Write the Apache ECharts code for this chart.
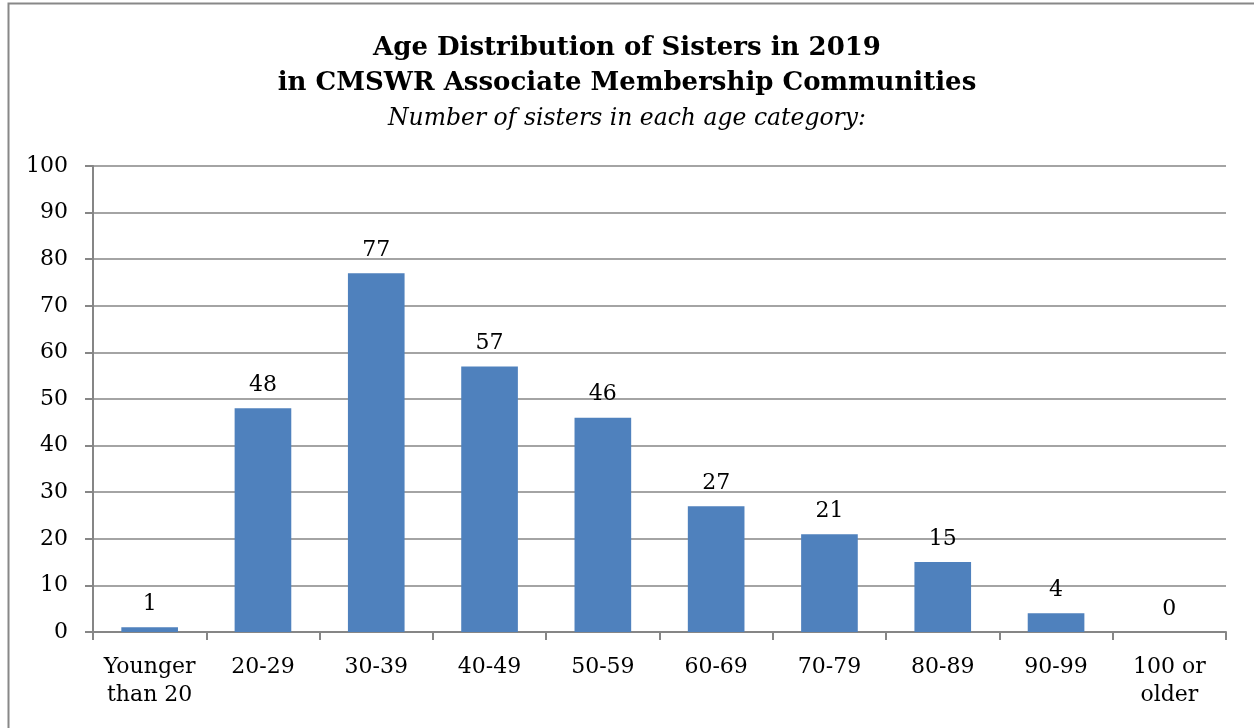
<!DOCTYPE html>
<html>
<head>
<meta charset="utf-8">
<style>
  html, body { margin: 0; padding: 0; background: #fff; }
  #chart { width: 1254px; height: 728px; }
</style>
<script src="https://cdn.jsdelivr.net/npm/echarts@6/dist/echarts.min.js"></script>
</head>
<body>
<div id="chart"></div>
<script>
// Age groups and the number of sisters in each
const categories = ['Younger\nthan 20', '20-29', '30-39', '40-49', '50-59', '60-69', '70-79', '80-89', '90-99', '100 or\nolder'];
const sisters = [1, 48, 77, 57, 46, 27, 21, 15, 4, 0];
const yTicks = { min: 0, max: 100, interval: 10 };

const titleLines = ['Age Distribution of Sisters in 2019', 'in CMSWR Associate Membership Communities'];
const subtitle = 'Number of sisters in each age category:';

const FONT = '"DejaVu Serif", "Liberation Serif", serif';
const chart = echarts.init(document.getElementById('chart'), null, { renderer: 'canvas' });

chart.setOption({
  backgroundColor: '#fff',
  animation: false,
  title: {
    text: titleLines.join('\n'),
    subtext: subtitle,
    left: 'center',
    top: 26,
    itemGap: 6,
    textStyle: { fontFamily: FONT, fontWeight: 'bold', fontSize: 26, lineHeight: 35, color: '#000' },
    subtextStyle: { fontFamily: FONT, fontStyle: 'italic', fontSize: 23.5, color: '#000' }
  },
  graphic: [{
    type: 'rect',
    shape: { x: 8.5, y: 3.5, width: 1400, height: 900 },
    style: { fill: 'none', stroke: '#888', lineWidth: 2 },
    silent: true
  }],
  grid: { left: 93, right: 28, top: 166, bottom: 96, containLabel: false },
  xAxis: {
    type: 'category',
    data: categories,
    axisLine: { lineStyle: { color: '#868686', width: 2 } },
    axisTick: { show: true, length: 8, lineStyle: { color: '#868686', width: 2 } },
    axisLabel: { fontFamily: FONT, fontSize: 22, color: '#000', lineHeight: 28, margin: 21, interval: 0 }
  },
  yAxis: {
    type: 'value',
    min: yTicks.min,
    max: yTicks.max,
    interval: yTicks.interval,
    axisLine: { show: true, lineStyle: { color: '#868686', width: 2 } },
    axisTick: { show: true, length: 8, lineStyle: { color: '#868686', width: 2 } },
    splitLine: { lineStyle: { color: '#868686', width: 1.5 } },
    axisLabel: { fontFamily: FONT, fontSize: 22, color: '#000', margin: 25 }
  },
  series: [{
    type: 'bar',
    data: sisters,
    barCategoryGap: '50%',
    itemStyle: { color: '#4F81BD' },
    label: {
      show: true,
      position: 'top',
      distance: 12,
      fontFamily: FONT,
      fontSize: 22,
      color: '#000'
    }
  }]
});
</script>
</body>
</html>
